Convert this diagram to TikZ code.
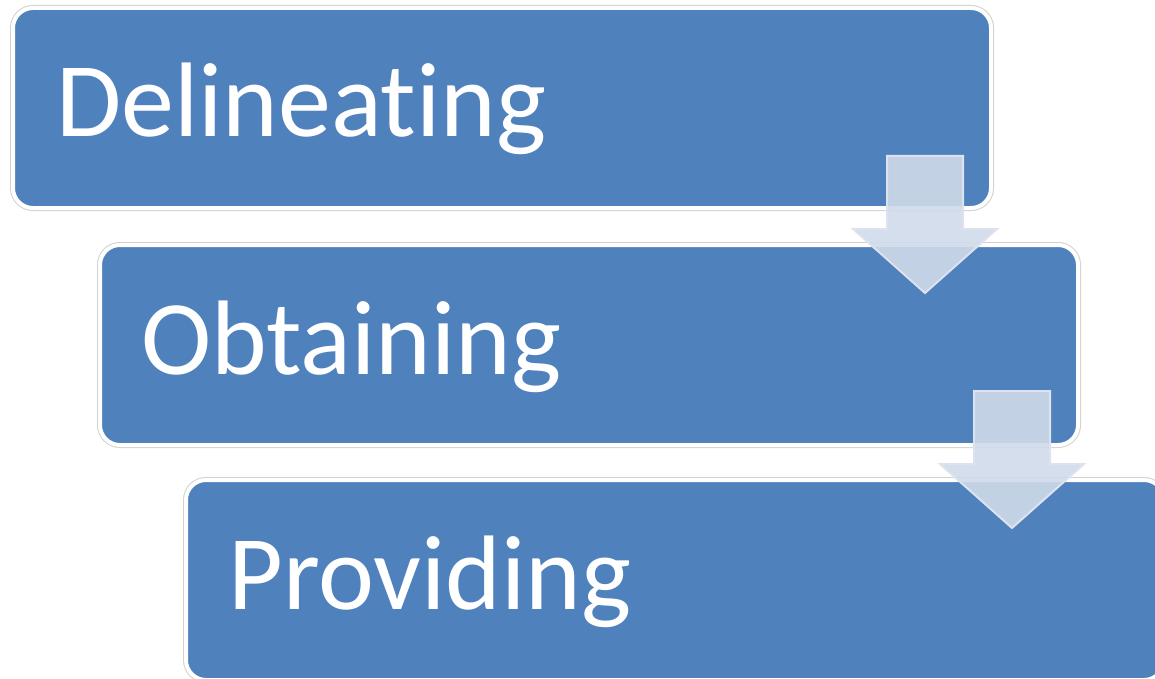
\documentclass[tikz,border=0pt]{standalone}
\usepackage{fontspec}
\setmainfont[RawFeature={-liga}]{Carlito}
\definecolor{boxblue}{HTML}{4F81BD}
\definecolor{arrfill}{RGB}{208,218,234}
\definecolor{arredge}{RGB}{220,227,239}
\begin{document}
\begin{tikzpicture}[x=1pt,y=-1pt,
 stepbox/.style={rectangle, rounded corners=20pt, fill=boxblue, draw=white, line width=4pt,
   preaction={draw=black!18, line width=6pt},
   minimum width=978pt, minimum height=200pt, anchor=north west, inner sep=0pt},
 lbl/.style={text=white, font=\fontsize{106}{110}\selectfont, anchor=base west, inner sep=0pt},
 blockarrow/.style={fill=arrfill, fill opacity=0.9, draw=arredge, line width=2pt, line join=miter}]
\useasboundingbox (0,0) rectangle (1155,679);
\node[stepbox] (b1) at (11,6) {};
\node[stepbox] (b2) at (98,243) {};
\node[stepbox] (b3) at (184,478) {};
\node[lbl] (t1) at (56,137) {Delineating};
\node[lbl] (t2) at (141,374) {Obtaining};
\node[lbl] (t3) at (228,609) {Providing};
\coordinate (a1) at (925,293);
\coordinate (a2) at (1012,528);
\foreach \tip in {a1,a2}{
  \draw[blockarrow, shift={(\tip)}] (-38,-137) -- (38,-137) -- (38,-64) -- (72,-64) -- (0,0) -- (-72,-64) -- (-38,-64) -- cycle;
}
\end{tikzpicture}
\end{document}
